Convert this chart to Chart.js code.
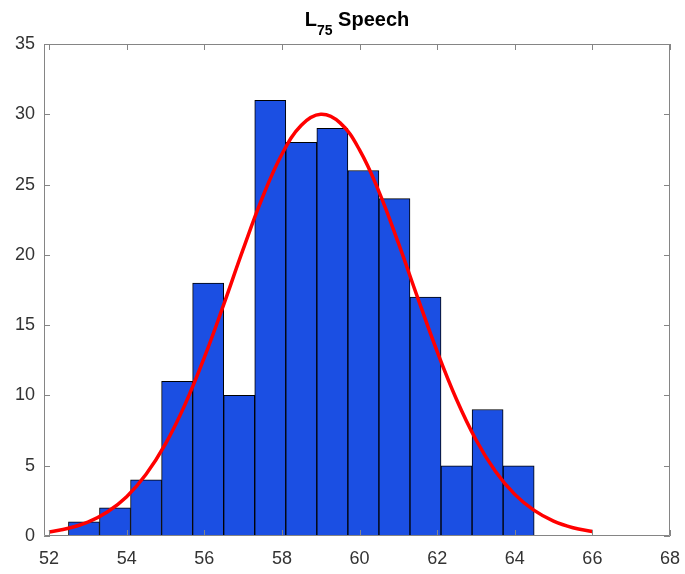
<!DOCTYPE html>
<html lang="en">
<head>
<meta charset="UTF-8" />
<title>L75 Speech</title>
<script src="https://cdn.jsdelivr.net/npm/chart.js"></script>
<style>
body { margin: 0; background: #fff; }
#chart { display: block; }
</style>
</head>
<body>
<canvas id="chart" width="685" height="574"></canvas>
<script>
// histogram bins (centres, width 0.8) and counts
const binCenters = [52.9, 53.7, 54.5, 55.3, 56.1, 56.9, 57.7, 58.5, 59.3, 60.1, 60.9, 61.7, 62.5, 63.3, 64.1];
const binCounts = [1, 2, 4, 11, 18, 10, 31, 28, 29, 26, 24, 17, 5, 9, 5];

// fitted normal curve, sampled every 0.5
const fitX = [52, 52.5, 53, 53.5, 54, 54.5, 55, 55.5, 56, 56.5, 57, 57.5, 58, 58.5, 59,
              59.5, 60, 60.5, 61, 61.5, 62, 62.5, 63, 63.5, 64, 64.5, 65, 65.5, 66];
const fitY = [0.29, 0.55, 0.99, 1.71, 2.80, 4.39, 6.55, 9.33, 12.69, 16.46, 20.39, 24.09, 27.16, 29.22, 30.0,
              29.39, 27.47, 24.50, 20.85, 16.94, 13.13, 9.71, 6.85, 4.61, 2.96, 1.82, 1.06, 0.59, 0.32];

const xTicks = [52, 54, 56, 58, 60, 62, 64, 66, 68];
const yTicks = [0, 5, 10, 15, 20, 25, 30, 35];

const FONT = "'Liberation Sans', Arial, sans-serif";
const AXIS_GRAY = '#858585';

// box around the axes with inward ticks on all four sides
const boxPlugin = {
  id: 'box',
  afterDraw(chart) {
    const { ctx, chartArea: a, scales } = chart;
    const len = 6;
    ctx.save();
    ctx.strokeStyle = AXIS_GRAY;
    ctx.lineWidth = 1;
    ctx.beginPath();
    ctx.rect(a.left + 0.5, a.top + 0.5, a.right - a.left - 1, a.bottom - a.top - 1);
    xTicks.forEach(v => {
      const x = Math.round(scales.x.getPixelForValue(v)) + 0.5;
      ctx.moveTo(x, a.bottom); ctx.lineTo(x, a.bottom - len);
      ctx.moveTo(x, a.top); ctx.lineTo(x, a.top + len);
    });
    yTicks.forEach(v => {
      const y = Math.round(scales.y.getPixelForValue(v)) + 0.5;
      ctx.moveTo(a.left, y); ctx.lineTo(a.left + len, y);
      ctx.moveTo(a.right, y); ctx.lineTo(a.right - len, y);
    });
    ctx.stroke();
    ctx.restore();
  }
};

// title with subscript: L_75 Speech
const titlePlugin = {
  id: 'subTitle',
  afterDraw(chart) {
    const ctx = chart.ctx;
    const big = 'bold 20px ' + FONT, small = 'bold 14px ' + FONT;
    ctx.save();
    ctx.fillStyle = '#000';
    ctx.textBaseline = 'alphabetic';
    ctx.font = big;
    const wL = ctx.measureText('L').width;
    const wS = ctx.measureText(' Speech').width;
    ctx.font = small;
    const wSub = ctx.measureText('75').width;
    let x = 357 - (wL + wSub + wS) / 2;
    ctx.font = big;
    ctx.fillText('L', x, 26);
    x += wL;
    ctx.font = small;
    ctx.fillText('75', x, 35);
    x += wSub;
    ctx.font = big;
    ctx.fillText(' Speech', x, 26);
    ctx.restore();
  }
};

new Chart(document.getElementById('chart'), {
  type: 'bar',
  data: {
    datasets: [
      {
        type: 'line',
        data: fitX.map((x, i) => ({ x: x, y: fitY[i] })),
        borderColor: '#ff0000',
        borderWidth: 3.5,
        pointRadius: 0,
        tension: 0.4,
        fill: false,
        order: 0
      },
      {
        type: 'bar',
        data: binCenters.map((x, i) => ({ x: x, y: binCounts[i] })),
        backgroundColor: '#1b4fe3',
        borderColor: '#000',
        borderWidth: 1,
        barPercentage: 1,
        categoryPercentage: 1,
        order: 1
      }
    ]
  },
  options: {
    responsive: false,
    animation: false,
    devicePixelRatio: 1,
    layout: { padding: { top: 44, right: 15, left: 0, bottom: 0 } },
    plugins: { legend: { display: false }, tooltip: { enabled: false } },
    scales: {
      x: {
        type: 'linear',
        offset: false,
        min: 51.87,
        max: 68,
        grid: { display: false, drawTicks: false, offset: false },
        border: { display: false },
        afterBuildTicks: s => { s.ticks = xTicks.map(v => ({ value: v })); },
        afterFit: s => { s.height = 38; s.paddingLeft = 0; s.paddingRight = 0; },
        ticks: { font: { family: FONT, size: 18 }, color: '#333', padding: 12, maxRotation: 0 }
      },
      y: {
        min: 0,
        max: 35,
        grid: { display: false, drawTicks: false },
        border: { display: false },
        afterBuildTicks: s => { s.ticks = yTicks.map(v => ({ value: v })); },
        afterFit: s => { s.width = 44; s.paddingTop = 0; s.paddingBottom = 0; },
        ticks: { font: { family: FONT, size: 18 }, color: '#333', padding: 9 }
      }
    }
  },
  plugins: [boxPlugin, titlePlugin]
});
</script>
</body>
</html>
